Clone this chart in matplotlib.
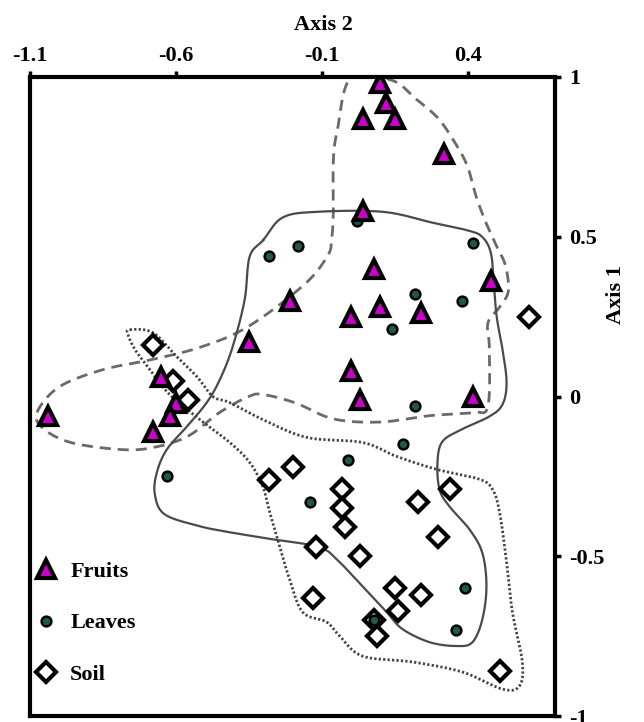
import numpy as np
import matplotlib
matplotlib.use('Agg')
import matplotlib.pyplot as plt
from matplotlib.lines import Line2D

plt.rcParams['font.family'] = ['Liberation Serif', 'DejaVu Serif']
plt.rcParams['font.weight'] = 'bold'

# sample scores (Axis 2 = x, Axis 1 = y)
fruits_x = [0.10, 0.12, 0.04, 0.15, 0.32, 0.04, 0.08, -0.21, 0.10, 0.00, 0.24,
            0.48, -0.35, 0.00, 0.03, 0.42, -1.04, -0.65, -0.60, -0.62, -0.68]
fruits_y = [0.98, 0.92, 0.87, 0.87, 0.76, 0.58, 0.40, 0.30, 0.28, 0.25, 0.26,
            0.36, 0.17, 0.08, -0.01, 0.00, -0.06, 0.06, -0.02, -0.06, -0.11]

leaves_x = [-0.28, -0.18, 0.02, 0.42, 0.22, 0.14, 0.38, 0.22, 0.18, -0.01,
            -0.14, -0.63, 0.39, 0.36, 0.08]
leaves_y = [0.44, 0.47, 0.55, 0.48, 0.32, 0.21, 0.30, -0.03, -0.15, -0.20,
            -0.33, -0.25, -0.60, -0.73, -0.70]

soil_x = [-0.68, -0.56, -0.61, 0.61, -0.20, -0.28, -0.03, 0.34, 0.23, -0.03, -0.02,
          0.30, -0.12, 0.03, 0.15, 0.24, -0.13, 0.16, 0.08, 0.09, 0.51]
soil_y = [0.16, -0.01, 0.05, 0.25, -0.22, -0.26, -0.29, -0.29, -0.33, -0.35, -0.41,
          -0.44, -0.47, -0.50, -0.60, -0.62, -0.63, -0.67, -0.70, -0.75, -0.86]

# hand drawn outlines round each group
fruit_hull_x = [-0.35, -0.30, -0.19, -0.06, 0.10, 0.27, 0.42, 0.47, 0.475, 0.47, 0.51,
                0.54, 0.53, 0.50, 0.465, 0.43, 0.40, 0.36, 0.30, 0.225, 0.14, 0.00,
                -0.045, -0.06, -0.06, -0.066, -0.08, -0.16, -0.35, -0.51, -0.68, -0.85,
                -1.00, -1.076, -1.055, -0.96, -0.79, -0.68, -0.56, -0.45]
fruit_hull_y = [0.00, 0.006, -0.02, -0.07, -0.08, -0.06, -0.05, -0.03, 0.15, 0.23, 0.28,
                0.33, 0.41, 0.47, 0.54, 0.625, 0.72, 0.79, 0.87, 0.93, 0.99, 0.997,
                0.84, 0.74, 0.58, 0.49, 0.44, 0.35, 0.22, 0.156, 0.116, 0.084,
                0.03, -0.05, -0.10, -0.144, -0.166, -0.16, -0.125, -0.05]

leaf_hull_x = [-0.30, -0.234, -0.117, 0.11, 0.28, 0.40, 0.45, 0.48, 0.49, 0.50, 0.52,
               0.534, 0.52, 0.475, 0.38, 0.314, 0.297, 0.304, 0.338, 0.407, 0.451,
               0.465, 0.451, 0.417, 0.362, 0.27, 0.177, 0.123, 0.04, -0.038, -0.107,
               -0.268, -0.415, -0.518, -0.638, -0.672, -0.665, -0.631, -0.562,
               -0.494, -0.449, -0.405, -0.364, -0.347]
leaf_hull_y = [0.49, 0.56, 0.578, 0.578, 0.544, 0.52, 0.50, 0.45, 0.356, 0.25, 0.147,
               0.044, -0.025, -0.0625, -0.103, -0.141, -0.206, -0.291, -0.344, -0.416, -0.49,
               -0.594, -0.697, -0.769, -0.781, -0.769, -0.728, -0.675, -0.594, -0.519, -0.472,
               -0.447, -0.425, -0.406, -0.369, -0.306, -0.2375, -0.166, -0.094,
               -0.019, 0.053, 0.156, 0.303, 0.4375]

soil_hull_x = [-0.758, -0.679, -0.597, -0.528, -0.473, -0.415, -0.302, -0.151, 0.04, 0.157,
               0.294, 0.441, 0.486, 0.51, 0.534, 0.554, 0.588, 0.578, 0.52, 0.383, 0.212,
               0.04, -0.038, -0.083, -0.165, -0.21, -0.244, -0.278, -0.302, -0.347,
               -0.415, -0.518, -0.621, -0.689, -0.74, -0.764]
soil_hull_y = [0.209, 0.20, 0.125, 0.0625, 0.0, -0.019, -0.072, -0.128, -0.144, -0.1875,
               -0.228, -0.259, -0.291, -0.3625, -0.519, -0.675, -0.831, -0.906, -0.916, -0.8625, -0.831,
               -0.8125, -0.75, -0.706, -0.675, -0.572, -0.469, -0.3625, -0.281, -0.206,
               -0.144, -0.072, 0.006, 0.084, 0.147, 0.194]


def smooth_closed(xs, ys, n=12):
    # catmull-rom through the outline vertices, closed
    p = np.column_stack([xs, ys])
    m = len(p)
    t = np.linspace(0, 1, n, endpoint=False)[:, None]
    segs = []
    for i in range(m):
        p0, p1, p2, p3 = p[i - 1], p[i], p[(i + 1) % m], p[(i + 2) % m]
        segs.append(0.5 * (2 * p1 + (-p0 + p2) * t + (2 * p0 - 5 * p1 + 4 * p2 - p3) * t ** 2
                           + (-p0 + 3 * p1 - 3 * p2 + p3) * t ** 3))
    out = np.vstack(segs + [segs[0][:1]])
    return out[:, 0], out[:, 1]


fig = plt.figure(figsize=(6.44, 7.22), dpi=100)
ax = fig.add_axes([30 / 644, 1 - 716 / 722, 525 / 644, 639 / 722])

hx, hy = smooth_closed(fruit_hull_x, fruit_hull_y)
ax.plot(hx, hy, color='#6a6a6a', lw=2, ls=(0, (4, 2.5)), zorder=1)
hx, hy = smooth_closed(leaf_hull_x, leaf_hull_y)
ax.plot(hx, hy, color='#4a4a4a', lw=1.6, ls='-', zorder=1)
hx, hy = smooth_closed(soil_hull_x, soil_hull_y)
ax.plot(hx, hy, color='#444444', lw=2, ls=(0, (0.8, 0.8)), zorder=1)

tri = dict(marker='^', ms=13, mfc='#cc00cc', mec='black', mew=3, ls='none')
leaf = dict(marker='o', ms=7, mfc='#1e5a4a', mec='black', mew=1.8, ls='none')
dia = dict(marker='D', ms=10, mfc='white', mec='black', mew=3, ls='none')

ax.plot(soil_x, soil_y, zorder=3, **dia)
ax.plot(leaves_x, leaves_y, zorder=4, **leaf)
ax.plot(fruits_x, fruits_y, zorder=5, **tri)

ax.set_xlim(-1.1, 0.7)
ax.set_ylim(-1, 1)
ax.set_xticks([-1.1, -0.6, -0.1, 0.4])
ax.set_xticklabels(['-1.1', '-0.6', '-0.1', '0.4'])
ax.set_yticks([-1, -0.5, 0, 0.5, 1])
ax.set_yticklabels(['-1', '-0.5', '0', '0.5', '1'])
ax.xaxis.tick_top()
ax.yaxis.tick_right()
ax.tick_params(direction='out', length=4, width=2.5, labelsize=16, pad=4)
ax.tick_params(axis='y', pad=6)
for s in ax.spines.values():
    s.set_linewidth(3)

fig.text(323 / 644, 1 - 25 / 722, 'Axis 2', ha='center', va='center', fontsize=16, fontweight='bold')
fig.text(616 / 644, 1 - 295 / 722, 'Axis 1', ha='center', va='center', rotation=90,
         fontsize=16, fontweight='bold')

handles = [Line2D([], [], **tri), Line2D([], [], **leaf), Line2D([], [], **dia)]
ax.legend(handles, ['Fruits', 'Leaves', 'Soil'], loc='center left',
          bbox_to_anchor=(-0.008, 0.1455), frameon=False, fontsize=16,
          handlelength=1.0, handletextpad=0.6, labelspacing=1.4, borderaxespad=0)

fig.savefig('out.png', dpi=100)
